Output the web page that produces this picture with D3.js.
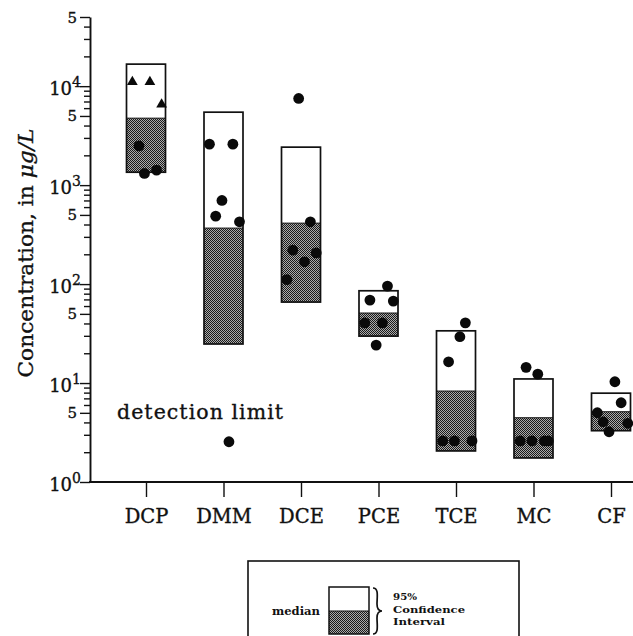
<!DOCTYPE html>
<html>
<head>
<meta charset="utf-8">
<script src="https://cdn.jsdelivr.net/npm/d3@7"></script>
<style>
  html, body { margin: 0; padding: 0; background: #fff; }
  svg { display: block; }
  text { font-family: "DejaVu Serif", "Liberation Serif", serif; fill: #111; }
  .heavy { stroke: #111; stroke-width: 0.35px; }
</style>
</head>
<body>
<svg id="chart" width="633" height="636"></svg>
<script>
// ---- data ----
const categories = ["DCP", "DMM", "DCE", "PCE", "TCE", "MC", "CF"];
const ciLow  = [1350, 24.8, 65.8, 29.8, 2.06, 1.75, 3.3];
const median = [4750, 368, 413, 51, 8.3, 4.46, 5.13];
const ciHigh = [16700, 5460, 2420, 85.6, 33.7, 11.0, 7.9];

// individual samples
const pointCategory = ["DCP","DCP","DCP","DCP","DCP","DCP",
  "DMM","DMM","DMM","DMM","DMM","DMM",
  "DCE","DCE","DCE","DCE","DCE","DCE",
  "PCE","PCE","PCE","PCE","PCE","PCE",
  "TCE","TCE","TCE","TCE","TCE","TCE",
  "MC","MC","MC","MC","MC","MC",
  "CF","CF","CF","CF","CF","CF"];
const pointValue = [11050, 11050, 6530, 2495, 1313, 1418,
  2594, 2594, 700, 486, 426, 2.55,
  7510, 426, 220, 207, 168, 111,
  95.5, 68.9, 67.3, 40.6, 40.6, 24.2,
  40.6, 29.4, 16.4, 2.6, 2.6, 2.6,
  14.4, 12.3, 2.6, 2.6, 2.6, 2.6,
  10.3, 6.32, 5.01, 4.06, 3.92, 3.22];
const pointJitter = [-0.35, 0.10, 0.40, -0.18, -0.04, 0.27,
  -0.36, 0.24, -0.04, -0.20, 0.41, 0.14,
  -0.06, 0.24, -0.21, 0.39, 0.09, -0.36,
  0.23, -0.22, 0.38, -0.35, 0.10, -0.06,
  0.24, 0.10, -0.19, -0.34, -0.04, 0.41,
  -0.19, 0.11, -0.34, -0.04, 0.28, 0.38,
  0.10, 0.26, -0.35, -0.20, 0.43, -0.05];
const pointShape = ["triangle","triangle","triangle","circle","circle","circle"]
  .concat(new Array(36).fill("circle"));

const yTickPowers = [0, 1, 2, 3, 4];
const yTickMults = [1, 2, 3, 4, 5, 6, 7, 8, 9];
const yMax = 50000;

const yTitle = "Concentration, in ";
const yTitleUnit = "\u03BCg/L";
const detectionLabel = "detection limit";
const legendMedian = "median";
const legendLines = ["95%", "Confidence", "Interval"];

// ---- layout ----
const svg = d3.select("#chart");
const axisX0 = 90, axisY0 = 482;

const x = d3.scalePoint().domain(categories).range([146, 611]);
const y = d3.scaleLog().domain([1, yMax]).range([axisY0, 17]);
const boxW = 39;
const jx = d3.scaleLinear().domain([-0.5, 0.5]).range([-boxW / 2, boxW / 2]);

// pattern for lower half
const defs = svg.append("defs");
const pat = defs.append("pattern").attr("id", "dither")
  .attr("width", 2).attr("height", 2).attr("patternUnits", "userSpaceOnUse");
pat.append("rect").attr("width", 2).attr("height", 2).attr("fill", "#ababab");
pat.append("rect").attr("x", 0).attr("y", 0).attr("width", 1).attr("height", 1).attr("fill", "#1a1a1a");
pat.append("rect").attr("x", 1).attr("y", 1).attr("width", 1).attr("height", 1).attr("fill", "#1a1a1a");

// ---- boxes ----
const boxData = categories.map((c, i) => ({ c, lo: ciLow[i], med: median[i], hi: ciHigh[i] }));
const boxes = svg.append("g").selectAll("g").data(boxData).join("g");
boxes.append("rect")
  .attr("x", d => x(d.c) - boxW / 2).attr("width", boxW)
  .attr("y", d => y(d.hi)).attr("height", d => y(d.med) - y(d.hi))
  .attr("fill", "#fff");
boxes.append("rect")
  .attr("x", d => x(d.c) - boxW / 2).attr("width", boxW)
  .attr("y", d => y(d.med)).attr("height", d => y(d.lo) - y(d.med))
  .attr("fill", "url(#dither)");
boxes.append("rect")
  .attr("x", d => x(d.c) - boxW / 2).attr("width", boxW)
  .attr("y", d => y(d.hi)).attr("height", d => y(d.lo) - y(d.hi))
  .attr("fill", "none").attr("stroke", "#111").attr("stroke-width", 1.7);
boxes.append("line")
  .attr("x1", d => x(d.c) - boxW / 2).attr("x2", d => x(d.c) + boxW / 2)
  .attr("y1", d => y(d.med)).attr("y2", d => y(d.med))
  .attr("stroke", "#111").attr("stroke-width", 1);

// ---- points ----
const pts = pointValue.map((v, i) => ({ c: pointCategory[i], v, j: pointJitter[i], s: pointShape[i] }));
const pg = svg.append("g");
pg.selectAll("circle").data(pts.filter(d => d.s === "circle")).join("circle")
  .attr("cx", d => x(d.c) + jx(d.j)).attr("cy", d => y(d.v))
  .attr("r", 5.4).attr("fill", "#0a0a0a");
const tri = d3.symbol().type(d3.symbolTriangle).size(50);
pg.selectAll("path").data(pts.filter(d => d.s === "triangle")).join("path")
  .attr("d", tri)
  .attr("transform", d => `translate(${x(d.c) + jx(d.j)},${y(d.v)})`)
  .attr("fill", "#0a0a0a");

// ---- y axis ----
const tickVals = [];
yTickPowers.forEach(p => yTickMults.forEach(m => {
  const v = m * Math.pow(10, p);
  if (v <= yMax) tickVals.push(v);
}));
[1, 2, 3, 4, 5].forEach(m => tickVals.push(m * Math.pow(10, yTickPowers.length)));
const yTicks = tickVals.filter(v => v <= yMax);
const isPow = v => Math.abs(Math.log10(v) - Math.round(Math.log10(v))) < 1e-9;
const isFive = v => {
  const lead = v / Math.pow(10, Math.floor(Math.log10(v) + 1e-9));
  return Math.abs(lead - 5) < 1e-9;
};
const isMajor = v => isPow(v) || isFive(v);
const yAxis = svg.append("g").attr("transform", `translate(${axisX0},0)`)
  .call(d3.axisLeft(y).tickValues(yTicks).tickFormat("").tickSizeOuter(0));
yAxis.select(".domain").attr("stroke", "#111").attr("stroke-width", 1.9);
yAxis.selectAll(".tick line")
  .attr("x2", d => isMajor(d) ? -10 : -6)
  .attr("stroke", "#111").attr("stroke-width", 1.4);

const labG = svg.append("g");
yTicks.forEach(v => {
  if (isPow(v)) {
    const lp = Math.round(Math.log10(v));
    const t = labG.append("text").attr("class", "heavy").attr("x", 81).attr("y", y(v) + 9)
      .attr("text-anchor", "end").style("font-size", "18px");
    t.append("tspan").text("10");
    t.append("tspan").attr("dy", -8).style("font-size", "14px").text(String(lp));
  } else if (isFive(v)) {
    labG.append("text").attr("class", "heavy").attr("x", 77).attr("y", y(v) + 5.5)
      .attr("text-anchor", "end").style("font-size", "15px").text("5");
  }
});

// y title
const yt = svg.append("text").attr("class", "heavy")
  .attr("transform", `translate(33,253) rotate(-90)`)
  .attr("text-anchor", "middle").style("font-size", "20px")
  .attr("textLength", 249).attr("lengthAdjust", "spacingAndGlyphs");
yt.append("tspan").text(yTitle);
yt.append("tspan").style("font-style", "italic").text(yTitleUnit);

// ---- x axis ----
const xAxis = svg.append("g").attr("transform", `translate(0,${axisY0})`)
  .call(d3.axisBottom(x).tickSize(15).tickSizeOuter(0).tickPadding(8));
xAxis.select(".domain").remove();
xAxis.append("line").attr("x1", axisX0 - 1).attr("x2", 633)
  .attr("stroke", "#111").attr("stroke-width", 1.9);
xAxis.selectAll(".tick line").attr("stroke", "#111").attr("stroke-width", 1.4);
xAxis.selectAll(".tick text").attr("class", "heavy")
  .style("font-family", "'DejaVu Serif', serif").style("font-size", "19.5px")
  .attr("fill", "#111").attr("dy", "0.9em");

// detection limit
svg.append("text").attr("class", "heavy").attr("x", 117).attr("y", 419)
  .style("font-size", "20.5px").attr("textLength", 166).attr("lengthAdjust", "spacing")
  .text(detectionLabel);

// ---- legend ----
const lg = svg.append("g");
lg.append("rect").attr("x", 248).attr("y", 561).attr("width", 271).attr("height", 120)
  .attr("fill", "none").attr("stroke", "#111").attr("stroke-width", 1.6);
const sw = { x: 329, top: 587, mid: 611, bot: 634, w: 40 };
lg.append("rect").attr("x", sw.x).attr("y", sw.top).attr("width", sw.w).attr("height", sw.mid - sw.top).attr("fill", "#fff");
lg.append("rect").attr("x", sw.x).attr("y", sw.mid).attr("width", sw.w).attr("height", sw.bot - sw.mid).attr("fill", "url(#dither)");
lg.append("rect").attr("x", sw.x).attr("y", sw.top).attr("width", sw.w).attr("height", sw.bot - sw.top)
  .attr("fill", "none").attr("stroke", "#111").attr("stroke-width", 1.5);
lg.append("line").attr("x1", sw.x).attr("x2", sw.x + sw.w).attr("y1", sw.mid).attr("y2", sw.mid)
  .attr("stroke", "#111").attr("stroke-width", 1);
lg.append("text").attr("x", 320).attr("y", sw.mid + 4).attr("text-anchor", "end")
  .style("font-size", "11px").style("font-weight", "bold")
  .attr("textLength", 48).attr("lengthAdjust", "spacingAndGlyphs").text(legendMedian);
// brace
const bx = 373, bt = sw.top + 1, bb = sw.bot, bm = (bt + bb) / 2;
lg.append("path")
  .attr("d", `M${bx},${bt} C${bx + 6},${bt} ${bx + 4},${bt + 9} ${bx + 4},${bm - 7}
    C${bx + 4},${bm - 2} ${bx + 6},${bm} ${bx + 9},${bm}
    C${bx + 6},${bm} ${bx + 4},${bm + 2} ${bx + 4},${bm + 7}
    C${bx + 4},${bb - 9} ${bx + 6},${bb} ${bx},${bb}`)
  .attr("fill", "none").attr("stroke", "#111").attr("stroke-width", 1.7);
const legendWidths = [24, 72, 52];
legendLines.forEach((s, i) => {
  lg.append("text").attr("x", 393).attr("y", 600 + i * 12.5)
    .style("font-size", "10px").style("font-weight", "bold")
    .attr("textLength", legendWidths[i]).attr("lengthAdjust", "spacingAndGlyphs").text(s);
});
</script>
</body>
</html>
